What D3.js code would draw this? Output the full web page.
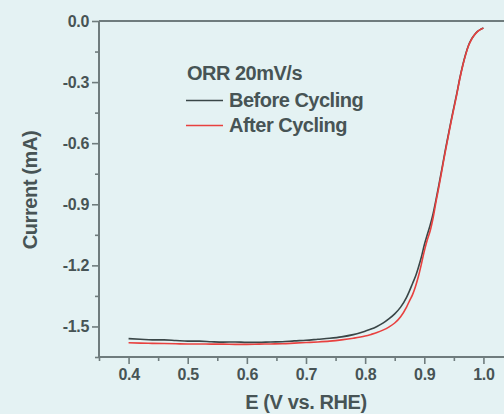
<!DOCTYPE html>
<html><head><meta charset="utf-8">
<script src="https://cdn.jsdelivr.net/npm/d3@7"></script>
<style>
html,body{margin:0;padding:0;background:#e4f2f3;}
svg{display:block;font-family:"Liberation Sans",Arial,sans-serif;font-weight:bold;}
</style></head>
<body><svg id="c" width="504" height="414"></svg>
<script>
// Data
const potential = [0.40,0.42,0.44,0.46,0.48,0.50,0.52,0.54,0.56,0.58,0.60,0.62,0.64,0.66,0.68,0.70,0.72,0.74,0.76,0.78,0.80,0.81,0.82,0.83,0.84,0.85,0.86,0.87,0.875,0.88,0.885,0.89,0.895,0.90,0.905,0.91,0.915,0.92,0.925,0.93,0.935,0.94,0.945,0.95,0.955,0.96,0.965,0.97,0.975,0.98,0.985,0.99,0.995,1.00];
const beforeCycling = [-1.560,-1.563,-1.566,-1.566,-1.569,-1.572,-1.572,-1.575,-1.577,-1.576,-1.578,-1.578,-1.576,-1.575,-1.571,-1.568,-1.563,-1.558,-1.551,-1.540,-1.523,-1.513,-1.500,-1.484,-1.463,-1.438,-1.405,-1.357,-1.325,-1.290,-1.255,-1.210,-1.160,-1.100,-1.050,-1.002,-0.945,-0.875,-0.800,-0.722,-0.643,-0.568,-0.494,-0.424,-0.355,-0.281,-0.217,-0.162,-0.118,-0.088,-0.067,-0.051,-0.041,-0.034];
const afterCycling = [-1.580,-1.582,-1.583,-1.584,-1.585,-1.586,-1.586,-1.587,-1.587,-1.588,-1.588,-1.587,-1.586,-1.585,-1.582,-1.579,-1.576,-1.572,-1.566,-1.558,-1.547,-1.539,-1.530,-1.518,-1.503,-1.483,-1.452,-1.405,-1.374,-1.345,-1.305,-1.255,-1.195,-1.130,-1.075,-1.030,-0.965,-0.885,-0.810,-0.730,-0.650,-0.575,-0.500,-0.430,-0.360,-0.285,-0.220,-0.165,-0.120,-0.090,-0.068,-0.052,-0.042,-0.035];
const xTicks = [0.4,0.5,0.6,0.7,0.8,0.9,1.0];
const xMinor = [0.35,0.45,0.55,0.65,0.75,0.85,0.95,1.05];
const yTicks = [0.0,-0.3,-0.6,-0.9,-1.2,-1.5];
const yMinor = [-0.15,-0.45,-0.75,-1.05,-1.35,-1.65];
const seriesNames = ["Before Cycling","After Cycling"];
const legendTitle = "ORR 20mV/s";

const txt = "#475455", axc = "#6f7c7d";
const colors = ["#3a4647","#e8413f"];
const fmt = d => d3.format(".1f")(d).replace("\u2212","-");
const svg = d3.select("#c");
const x = d3.scaleLinear().domain([0.35,1.05]).range([99,513]);
const y = d3.scaleLinear().domain([-1.65,0]).range([357,21]);

// curves
const line = d3.line().x(d=>x(d[0])).y(d=>y(d[1])).curve(d3.curveMonotoneX);
[beforeCycling, afterCycling].forEach((vals,i)=>{
  svg.append("path").datum(potential.map((p,j)=>[p,vals[j]]))
    .attr("d",line).attr("fill","none").attr("stroke",colors[i]).attr("stroke-width",1.6);
});

// axes
const xAx = svg.append("g").attr("transform","translate(0,357)")
  .call(d3.axisBottom(x).tickValues(xTicks).tickFormat(fmt).tickSize(7).tickPadding(5));
const xMin = svg.append("g").attr("transform","translate(0,357)")
  .call(d3.axisBottom(x).tickValues(xMinor).tickFormat("").tickSize(4));
const yAx = svg.append("g").attr("transform","translate(99,0)")
  .call(d3.axisLeft(y).tickValues(yTicks).tickFormat(fmt).tickSize(7).tickPadding(3));
const yMin = svg.append("g").attr("transform","translate(99,0)")
  .call(d3.axisLeft(y).tickValues(yMinor).tickFormat("").tickSize(4));
[xAx,xMin,yAx,yMin].forEach(g=>{
  g.select(".domain").remove();
  g.selectAll("line").attr("stroke",axc).attr("stroke-width",1.6);
  g.selectAll("text").attr("fill",txt).attr("font-size",16).attr("font-weight","bold")
   .attr("font-family","Liberation Sans, Arial, sans-serif").style("letter-spacing","-0.3px");
});
// frame lines
svg.append("line").attr("x1",99).attr("x2",99).attr("y1",y(0)).attr("y2",y(-1.65)+1).attr("stroke",axc).attr("stroke-width",2);
svg.append("line").attr("x1",99).attr("x2",513).attr("y1",y(-1.65)).attr("y2",y(-1.65)).attr("stroke",axc).attr("stroke-width",2);
svg.append("line").attr("x1",99).attr("x2",513).attr("y1",y(0)).attr("y2",y(0)).attr("stroke",axc).attr("stroke-width",2);

// titles
svg.append("text").attr("x",(99+513)/2).attr("y",409).attr("text-anchor","middle")
  .attr("fill",txt).attr("font-size",20).style("letter-spacing","-0.4px").text("E (V vs. RHE)");
svg.append("text").attr("transform","translate(37,190) rotate(-90)").attr("text-anchor","middle")
  .attr("fill",txt).attr("font-size",20).style("letter-spacing","-0.4px").text("Current (mA)");

// legend
svg.append("text").attr("x",187).attr("y",80).attr("fill",txt).attr("font-size",20)
  .style("letter-spacing","-0.5px").text(legendTitle);
seriesNames.forEach((n,i)=>{
  const yy = 100.5 + i*25;
  svg.append("line").attr("x1",186).attr("x2",223).attr("y1",yy).attr("y2",yy)
    .attr("stroke",colors[i]).attr("stroke-width",1.6);
  svg.append("text").attr("x",229).attr("y",yy+6.5).attr("fill",txt).attr("font-size",20)
    .style("letter-spacing","-0.5px").text(n);
});
</script></body></html>
